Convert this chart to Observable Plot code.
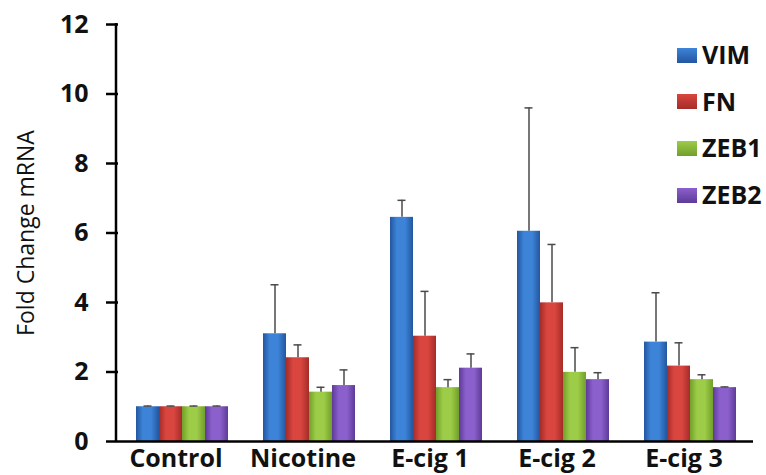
<!DOCTYPE html>
<html>
<head>
<meta charset="utf-8">
<script src="https://cdn.jsdelivr.net/npm/d3@7"></script>
<script src="https://cdn.jsdelivr.net/npm/@observablehq/plot@0.6"></script>
<style>
  html, body { margin: 0; padding: 0; background: #fff; }
  #wrap { position: relative; width: 766px; height: 475px; font-family: "Open Sans", Lato, sans-serif; }
  #legend { position: absolute; left: 677px; top: 41px; }
  .li { position: absolute; left: 0; height: 26px; display: flex; align-items: center; white-space: nowrap; }
  .sw { width: 20px; height: 15px; margin-right: 5px; margin-top: 2px; }
  .lt { font-weight: bold; font-size: 25px; color: #111; line-height: 26px; }
  #ylab { position: absolute; left: 25px; top: 233px; transform: translate(-50%, -50%) rotate(-90deg); font-size: 23px; color: #111; white-space: nowrap; line-height: 1; }
  svg text { fill: #111; }
  g[aria-label="y-axis tick label"] text, g[aria-label="fx-axis tick label"] text { font-weight: bold; }
</style>
</head>
<body>
<div id="wrap"><div id="legend"></div><div id="ylab">Fold Change mRNA</div></div>
<script>
const groups = ["Control", "Nicotine", "E-cig 1", "E-cig 2", "E-cig 3"];
const series = ["VIM", "FN", "ZEB1", "ZEB2"];
const VIM = [1.0, 3.10, 6.45, 6.05, 2.86];
const VIM_err = [0.02, 1.41, 0.49, 3.55, 1.42];
const FN = [1.0, 2.41, 3.03, 3.99, 2.17];
const FN_err = [0.02, 0.37, 1.29, 1.68, 0.67];
const ZEB1 = [1.0, 1.42, 1.55, 1.99, 1.78];
const ZEB1_err = [0.02, 0.14, 0.23, 0.71, 0.14];
const ZEB2 = [1.0, 1.61, 2.11, 1.78, 1.55];
const ZEB2_err = [0.02, 0.45, 0.41, 0.20, 0.02];
const yTicks = [0, 2, 4, 6, 8, 10, 12];

const colors = {
  VIM: ["#23569f", "#3d84d8"],
  FN: ["#a42c28", "#d9453f"],
  ZEB1: ["#719f2a", "#9dcc48"],
  ZEB2: ["#5e3a98", "#8b60cc"]
};

const valuesBy = {VIM, FN, ZEB1, ZEB2};
const errBy = {VIM: VIM_err, FN: FN_err, ZEB1: ZEB1_err, ZEB2: ZEB2_err};
const data = [];
groups.forEach((g, i) => series.forEach(s => data.push({group: g, series: s, value: valuesBy[s][i], err: errBy[s][i]})));

const chart = Plot.plot({
  width: 766,
  height: 475,
  marginLeft: 116,
  marginRight: 11,
  marginTop: 24,
  marginBottom: 34,
  style: {fontFamily: "'Open Sans', Lato, sans-serif", background: "white", color: "#111"},
  fx: {domain: groups, padding: 0, label: null, axis: null},
  x: {domain: series, paddingInner: 0, paddingOuter: 0.74, axis: null},
  y: {domain: [0, 12], axis: null},
  color: {domain: series, range: series.map(s => `url(#grad-${s})`)},
  marks: [
    Plot.axisY({ticks: yTicks, tickSize: 12, tickPadding: 18, fontSize: 25, label: null, strokeWidth: 2.5, stroke: "#000"}),
    Plot.axisFx({anchor: "bottom", tickSize: 0, tickPadding: 8, fontSize: 25, label: null, dx: -6}),
    Plot.barY(data, {fx: "group", x: "series", y: "value", fill: "series"}),
    Plot.ruleX(data, {fx: "group", x: "series", y1: "value", y2: d => d.value + d.err, stroke: "#4a4a4a", strokeWidth: 1.5}),
    Plot.tickY(data, {fx: "group", x: "series", y: d => d.value + d.err, stroke: "#4a4a4a", strokeWidth: 1.5, insetLeft: 7.5, insetRight: 7.5}),
    Plot.ruleY([0], {stroke: "#000", strokeWidth: 2.5})
  ]
});

// gradient definitions for bars
const ns = "http://www.w3.org/2000/svg";
const defs = document.createElementNS(ns, "defs");
series.forEach(s => {
  const lg = document.createElementNS(ns, "linearGradient");
  lg.setAttribute("id", `grad-${s}`);
  lg.setAttribute("x1", "0"); lg.setAttribute("x2", "1"); lg.setAttribute("y1", "0"); lg.setAttribute("y2", "0");
  [[0, colors[s][0]], [0.3, colors[s][1]], [0.65, colors[s][1]], [1, colors[s][0]]].forEach(([o, c]) => {
    const st = document.createElementNS(ns, "stop");
    st.setAttribute("offset", o); st.setAttribute("stop-color", c);
    lg.appendChild(st);
  });
  defs.appendChild(lg);
});
chart.insertBefore(defs, chart.firstChild);

// y axis line along the left edge of the frame
const yScale = chart.scale("y");
const axisLine = document.createElementNS(ns, "line");
axisLine.setAttribute("x1", 116); axisLine.setAttribute("x2", 116);
axisLine.setAttribute("y1", yScale.apply(12) - 1); axisLine.setAttribute("y2", yScale.apply(0));
axisLine.setAttribute("stroke", "#000"); axisLine.setAttribute("stroke-width", 2.5);
chart.appendChild(axisLine);

document.getElementById("wrap").prepend(chart);

const legend = document.getElementById("legend");
series.forEach((s, i) => {
  const row = document.createElement("div");
  row.className = "li";
  row.style.top = (i * 46.7) + "px";
  const sw = document.createElement("div");
  sw.className = "sw";
  sw.style.background = `linear-gradient(to bottom, ${colors[s][1]}, ${colors[s][0]})`;
  const t = document.createElement("span");
  t.className = "lt";
  t.textContent = s;
  row.appendChild(sw); row.appendChild(t);
  legend.appendChild(row);
});
</script>
</body>
</html>
